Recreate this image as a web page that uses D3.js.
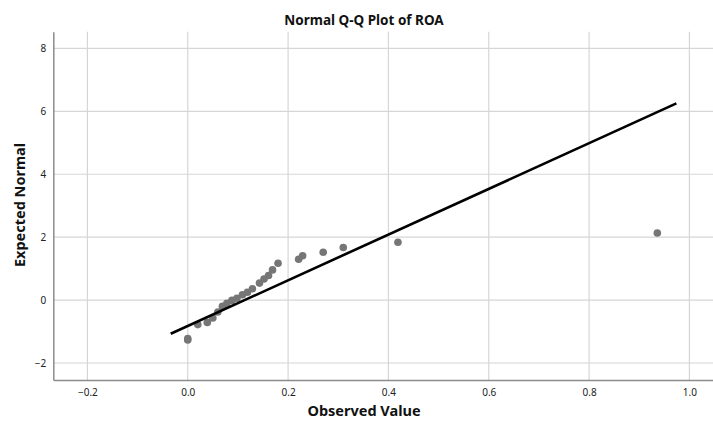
<!DOCTYPE html>
<head>
  <meta charset="utf-8">
  <style>
    html, body { margin: 0; padding: 0; background: #fff; }
    svg { display: block; }
    .axis text {
      fill: #222;
      font-family: 'Noto Sans', 'DejaVu Sans', sans-serif;
      font-size: 10px;
    }
    .axis path, .axis line { stroke: #8c8c8c; }
    .grid line { stroke: #d6d6d6; stroke-width: 1.2; }
    .label {
      font-family: 'Noto Sans', 'DejaVu Sans', sans-serif;
      font-weight: bold;
      fill: #111;
    }
  </style>
</head>

<body>
  <script src="https://cdn.jsdelivr.net/npm/d3@7"></script>
  <script>
    // observed ROA values and their expected normal values
    const observed = [0.000, 0.000, 0.020, 0.039, 0.050, 0.060, 0.069, 0.078, 0.088, 0.098, 0.109, 0.119,
                      0.129, 0.143, 0.152, 0.161, 0.169, 0.180, 0.221, 0.229, 0.270, 0.310, 0.419, 0.936];
    const expected = [-1.27, -1.22, -0.78, -0.71, -0.57, -0.38, -0.20, -0.10, -0.01, 0.06, 0.17, 0.25,
                      0.36, 0.54, 0.67, 0.78, 0.96, 1.17, 1.30, 1.41, 1.52, 1.67, 1.84, 2.13];
    // reference line end points
    const lineX = [-0.034, 0.974];
    const lineY = [-1.07, 6.25];
    const xTicks = [-0.2, 0.0, 0.2, 0.4, 0.6, 0.8, 1.0];
    const yTicks = [-2, 0, 2, 4, 6, 8];

    const width = 713;
    const height = 421;
    const margin = {top: 31.7, right: 0, bottom: 41, left: 53.3};
    const innerWidth = width - margin.left - margin.right;
    const innerHeight = height - margin.top - margin.bottom;

    const svg = d3.select("body")
      .append("svg")
      .attr("width", width)
      .attr("height", height);

    const g = svg.append("g")
      .attr("transform", "translate(" + margin.left + "," + margin.top + ")");

    const xScale = d3.scaleLinear().domain([-0.268, 1.047]).range([0, innerWidth]);
    const yScale = d3.scaleLinear().domain([-2.54, 8.53]).range([innerHeight, 0]);

    // grid lines
    g.append("g").attr("class", "grid")
      .selectAll("line").data(xTicks).enter().append("line")
      .attr("x1", d => xScale(d)).attr("x2", d => xScale(d))
      .attr("y1", 0).attr("y2", innerHeight);
    g.append("g").attr("class", "grid")
      .selectAll("line").data(yTicks).enter().append("line")
      .attr("x1", 0).attr("x2", innerWidth)
      .attr("y1", d => yScale(d)).attr("y2", d => yScale(d));

    // axes
    const xaxis = d3.axisBottom(xScale).tickValues(xTicks).tickFormat(d3.format(".1f")).tickSize(0).tickPadding(9);
    const yaxis = d3.axisLeft(yScale).tickValues(yTicks).tickFormat(d3.format("d")).tickSize(0).tickPadding(7);

    const gx = g.append("g").attr("class", "axis")
      .attr("transform", "translate(0," + innerHeight + ")")
      .call(xaxis);
    gx.select(".domain").attr("stroke-width", 1.5);
    gx.selectAll("text").attr("dy", "7px");

    const gy = g.append("g").attr("class", "axis")
      .call(yaxis);
    gy.select(".domain").attr("stroke-width", 1.5);
    gy.selectAll("text").attr("dy", "3.5px");

    // points
    g.append("g").selectAll("circle")
      .data(observed).enter().append("circle")
      .attr("cx", d => xScale(d))
      .attr("cy", (d, i) => yScale(expected[i]))
      .attr("r", 3.8)
      .style("fill", "#767676");

    // reference line
    const line = d3.line().x(d => xScale(d[0])).y(d => yScale(d[1]));
    g.append("path")
      .datum(lineX.map((x, i) => [x, lineY[i]]))
      .attr("d", line)
      .attr("fill", "none")
      .attr("stroke", "#000")
      .attr("stroke-width", 2.6);

    // titles
    svg.append("text").attr("class", "label")
      .attr("x", 364).attr("y", 25)
      .attr("text-anchor", "middle")
      .style("font-size", "13.5px")
      .text("Normal Q-Q Plot of ROA");
    svg.append("text").attr("class", "label")
      .attr("x", 364).attr("y", 416)
      .attr("text-anchor", "middle")
      .style("font-size", "14.5px")
      .text("Observed Value");
    svg.append("text").attr("class", "label")
      .attr("transform", "translate(25,205) rotate(-90)")
      .attr("text-anchor", "middle")
      .style("font-size", "14.5px")
      .text("Expected Normal");
  </script>
</body>
